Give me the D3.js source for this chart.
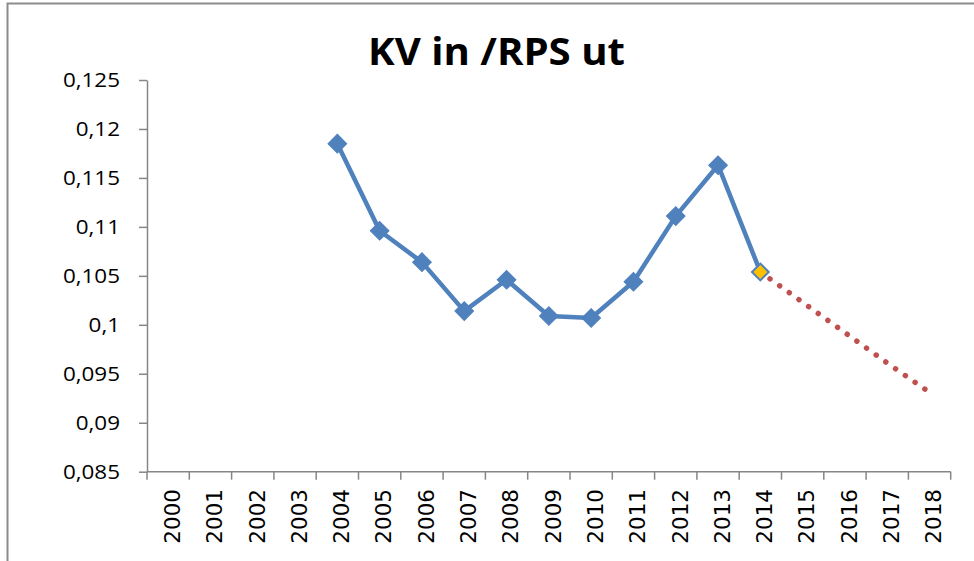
<!DOCTYPE html>
<html>
<head>
<meta charset="utf-8">
<script src="https://cdn.jsdelivr.net/npm/d3@7/dist/d3.min.js"></script>
<style>
  html, body { margin: 0; padding: 0; background: #fff; }
  svg { display: block; }
</style>
</head>
<body>
<svg id="chart" width="974" height="561"></svg>
<script>
// ---- data ----
const title = "KV in /RPS ut";
const years = ["2000","2001","2002","2003","2004","2005","2006","2007","2008","2009",
               "2010","2011","2012","2013","2014","2015","2016","2017","2018"];
const actualYears  = ["2004","2005","2006","2007","2008","2009","2010","2011","2012","2013","2014"];
const actualValues = [0.1185, 0.1096, 0.1064, 0.1014, 0.1046, 0.1009, 0.1007, 0.1044, 0.1111, 0.1163, 0.1054];
const forecastYears  = ["2014","2015","2016","2017","2018"];
const forecastValues = [0.1054, 0.1023, 0.0992, 0.0961, 0.0931];
const yTicks = [0.085, 0.09, 0.095, 0.1, 0.105, 0.11, 0.115, 0.12, 0.125];
const yTickLabels = ["0,085","0,09","0,095","0,1","0,105","0,11","0,115","0,12","0,125"];

// ---- layout ----
const svg = d3.select("#chart");
const plotLeft = 147, plotRight = 950.7, plotTop = 80, plotBottom = 471.7;
const axisColor = "#868686";

// outer border
svg.append("rect")
  .attr("x", 7.5).attr("y", 3.5).attr("width", 1000).attr("height", 700)
  .attr("fill", "none").attr("stroke", "#8c8c8c").attr("stroke-width", 2);

const x = d3.scaleBand().domain(years).range([plotLeft, plotRight]).padding(0);
const y = d3.scaleLinear().domain([0.085, 0.125]).range([plotBottom, plotTop]);
const cx = d => x(d) + x.bandwidth() / 2;

// title
svg.append("text")
  .attr("x", 368).attr("y", 65)
  .attr("textLength", 257).attr("lengthAdjust", "spacingAndGlyphs")
  .style("font-family", "'Open Sans', sans-serif")
  .style("font-weight", "bold")
  .style("font-size", "38px")
  .attr("fill", "#000")
  .text(title);

// y axis
const yAxis = d3.axisLeft(y).tickValues(yTicks).tickSize(8).tickSizeOuter(0)
  .tickFormat((d, i) => yTickLabels[i]);
const gy = svg.append("g").attr("transform", `translate(${plotLeft},0)`).call(yAxis);
gy.select(".domain").attr("stroke", axisColor).attr("stroke-width", 1.5);
gy.selectAll(".tick line").attr("stroke", axisColor).attr("stroke-width", 1.5);
gy.selectAll(".tick text")
  .attr("x", null).attr("dy", "0.35em")
  .attr("text-anchor", "end")
  .attr("transform", "translate(-27,0) scale(1.15,1)")
  .style("font-family", "'Open Sans', sans-serif")
  .style("font-size", "19.5px")
  .attr("fill", "#000");

// x axis (ticks on category boundaries)
const boundaries = years.map(d => x(d)).concat([plotRight]);
const gx = svg.append("g");
gx.append("line")
  .attr("x1", plotLeft).attr("x2", plotRight).attr("y1", plotBottom).attr("y2", plotBottom)
  .attr("stroke", axisColor).attr("stroke-width", 1.5);
gx.selectAll("line.tk").data(boundaries).enter().append("line")
  .attr("class", "tk")
  .attr("x1", d => d).attr("x2", d => d)
  .attr("y1", plotBottom).attr("y2", plotBottom + 8)
  .attr("stroke", axisColor).attr("stroke-width", 1.5);
gx.selectAll("text").data(years).enter().append("text")
  .attr("transform", d => `translate(${cx(d) + 4},489) rotate(-90)`)
  .attr("text-anchor", "end")
  .attr("dy", "0.36em")
  .style("font-family", "'DejaVu Sans', sans-serif")
  .style("font-size", "21.5px")
  .attr("fill", "#000")
  .text(d => d);

// forecast dotted line
const fcData = forecastYears.map((d, i) => ({ yr: d, v: forecastValues[i] }));
const line = d3.line().x(d => cx(d.yr)).y(d => y(d.v));
svg.append("path")
  .datum(fcData)
  .attr("d", line)
  .attr("fill", "none")
  .attr("stroke", "#C0504D")
  .attr("stroke-width", 5.5)
  .attr("stroke-linecap", "round")
  .attr("stroke-dasharray", "0.01 11.87");

// actual line
const acData = actualYears.map((d, i) => ({ yr: d, v: actualValues[i] }));
svg.append("path")
  .datum(acData)
  .attr("d", line)
  .attr("fill", "none")
  .attr("stroke", "#4F81BD")
  .attr("stroke-width", 4.5)
  .attr("stroke-linejoin", "round");

// markers
const sq = d3.symbol().type(d3.symbolSquare).size(175);
svg.selectAll("path.mk").data(acData.slice(0, -1)).enter().append("path")
  .attr("class", "mk")
  .attr("d", sq)
  .attr("transform", d => `translate(${cx(d.yr)},${y(d.v)}) rotate(45)`)
  .attr("fill", "#4F81BD")
  .attr("stroke", "#4F81BD")
  .attr("stroke-width", 1);
const lastPt = acData[acData.length - 1];
svg.append("path")
  .attr("d", d3.symbol().type(d3.symbolSquare).size(140)())
  .attr("transform", `translate(${cx(lastPt.yr)},${y(lastPt.v)}) rotate(45)`)
  .attr("fill", "#FFC000")
  .attr("stroke", "#4F81BD")
  .attr("stroke-width", 2);
</script>
</body>
</html>
